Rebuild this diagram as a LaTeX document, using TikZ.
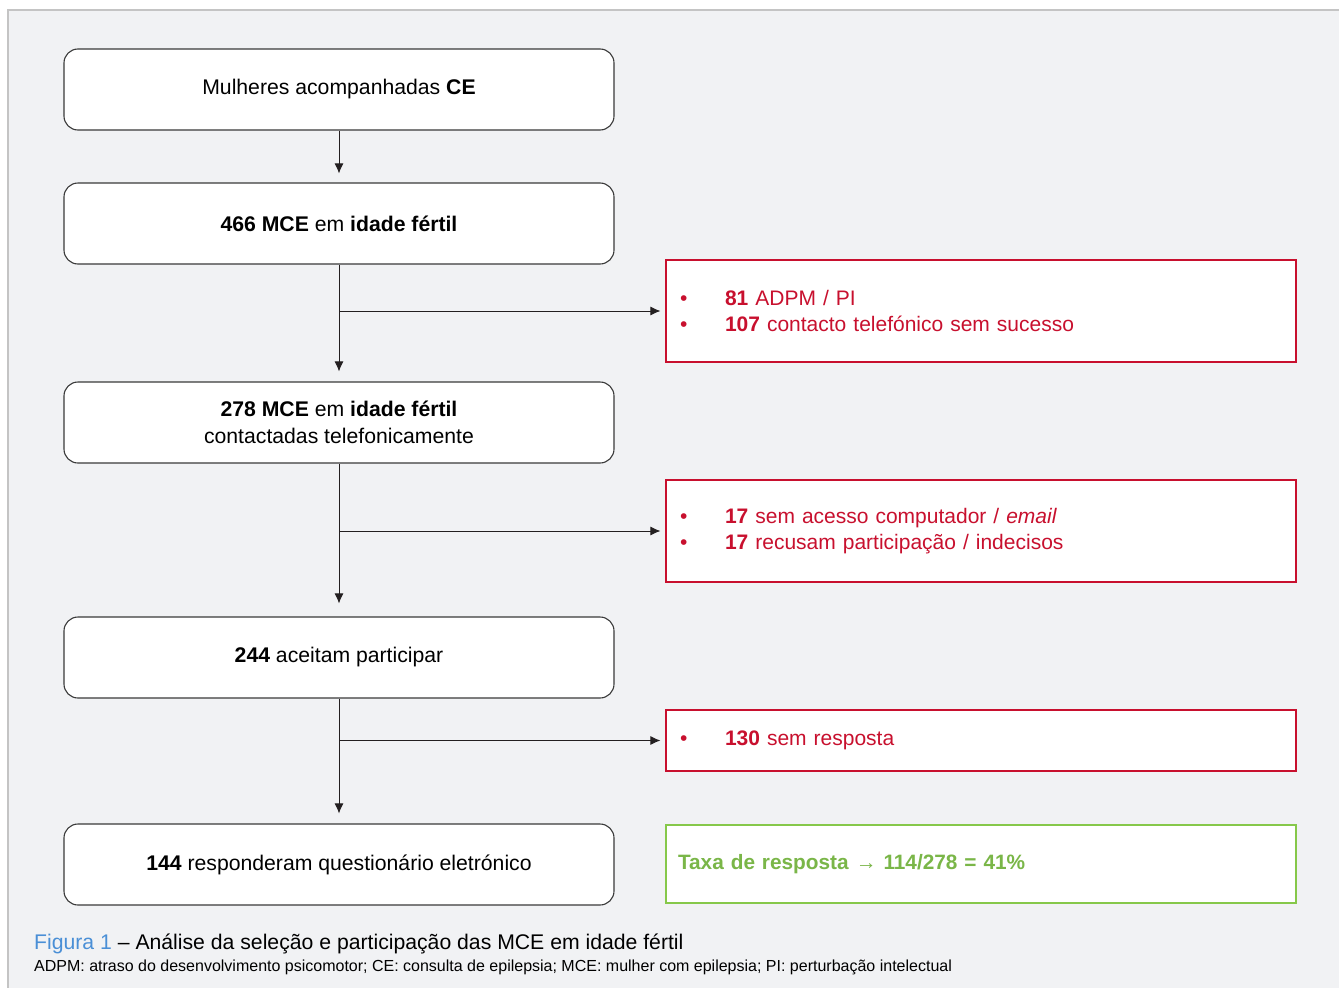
\documentclass[tikz,border=0pt]{standalone}
\usepackage{fontspec}
\setmainfont{Liberation Sans}
\usetikzlibrary{arrows.meta}
\definecolor{panel}{HTML}{F1F2F4}
\definecolor{panelline}{HTML}{C4C4C4}
\definecolor{boxline}{HTML}{3A3A3A}
\definecolor{redc}{HTML}{C8102E}
\definecolor{greenc}{HTML}{7AB648}
\definecolor{greenl}{HTML}{86C84A}
\definecolor{figblue}{HTML}{4A8FD6}
\definecolor{arrowc}{HTML}{231F20}
\tikzset{
  x=1pt,y=-1pt,
  flowbox/.style={draw=boxline,line width=1.1pt,fill=white,rounded corners=14pt,
    minimum width=550pt,minimum height=81pt,inner sep=0pt,align=center,
    font=\fontsize{21.2}{27}\selectfont},
  redbox/.style={draw=redc,line width=1.1pt,fill=white,minimum width=630pt,
    text width=602pt,inner xsep=14pt,inner ysep=0pt,align=left,text=redc,
    font=\fontsize{21}{26}\selectfont},
  greenbox/.style={draw=greenl,line width=2.4pt,fill=white,minimum width=630pt,
    minimum height=78pt,text width=606pt,inner xsep=12pt,align=left,text=greenc,
    font=\fontsize{20.8}{26}\selectfont},
  conn/.style={draw=arrowc,line width=1pt,-{Latex[length=10pt,width=9pt]}},
}
\newcommand{\bul}{\makebox[45pt][l]{•}}
\begin{document}
\begin{tikzpicture}
\useasboundingbox (0,0) rectangle (1339,988);
\fill[white] (0,0) rectangle (1339,988);
\fill[panel] (8,10) rectangle (1339,988);
\draw[panelline,line width=2pt] (8,995) -- (8,10) -- (1339,10);

\node[flowbox] (b1) at (339,89.5) {Mulheres acompanhadas \textbf{CE}};
\node[flowbox] (b2) at (339,223.5) {\textbf{466 MCE} em \textbf{idade fértil}};
\node[flowbox] (b3) at (339,422.5) {\textbf{278 MCE} em \textbf{idade fértil}\\contactadas telefonicamente};
\node[flowbox] (b4) at (339,657.5) {\textbf{244} aceitam participar};
\node[flowbox] (b5) at (339,864.5) {\textbf{144} responderam questionário eletrónico};

\node[redbox,minimum height=102pt] (r1) at (981,311) {\bul\textbf{81} ADPM / PI\\\bul\textbf{107} contacto telefónico sem sucesso};
\node[redbox,minimum height=102pt] (r2) at (981,531) {\bul\textbf{17} sem acesso computador / \textit{email}\\\bul\textbf{17} recusam participação / indecisos};
\node[redbox,minimum height=61pt] (r3) at (981,740.5) {\bul\textbf{130} sem resposta};
\node[greenbox] (g1) at (981,864) {\textbf{Taxa de resposta} → \textbf{114/278 = 41\%}};

\coordinate (j1) at (b2.south |- r1.west);
\coordinate (j2) at (b3.south |- r2.west);
\coordinate (j3) at (b4.south |- r3.west);

\draw[conn] (b1.south) -- ([yshift=9pt]b2.north);
\draw[conn] (b2.south) -- ([yshift=10pt]b3.north);
\draw[conn] (j1) -- ([xshift=-5pt]r1.west);
\draw[conn] (b3.south) -- ([yshift=13pt]b4.north);
\draw[conn] (j2) -- ([xshift=-5pt]r2.west);
\draw[conn] (b4.south) -- ([yshift=10pt]b5.north);
\draw[conn] (j3) -- ([xshift=-5pt]r3.west);

\node[anchor=west,inner sep=0pt,font=\fontsize{21.2}{25}\selectfont] (cap) at (34,944)
  {\textcolor{figblue}{Figura 1} – Análise da seleção e participação das MCE em idade fértil};
\node[anchor=west,inner sep=0pt,font=\fontsize{16}{19}\selectfont] (foot) at (34,967)
  {ADPM: atraso do desenvolvimento psicomotor; CE: consulta de epilepsia; MCE: mulher com epilepsia; PI: perturbação intelectual};
\end{tikzpicture}
\end{document}
